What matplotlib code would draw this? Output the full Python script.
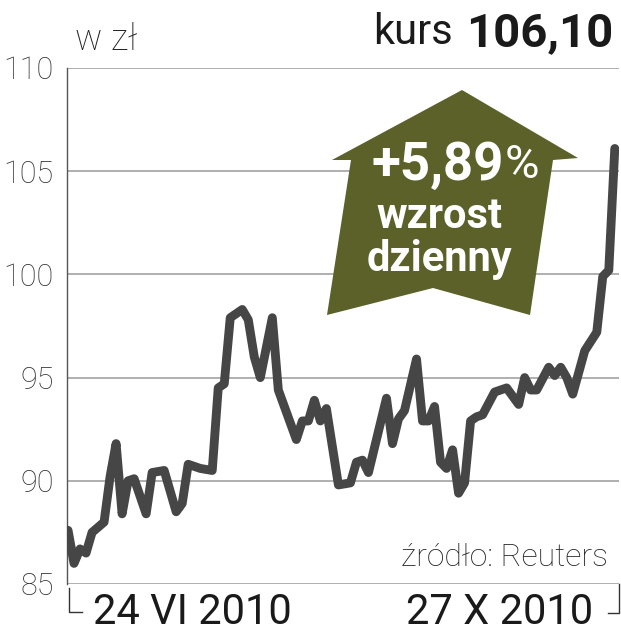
import matplotlib
matplotlib.use('Agg')
import matplotlib.pyplot as plt
from matplotlib.patches import Polygon
from matplotlib.lines import Line2D

# kurs akcji, dni sesyjne od 24 VI 2010 do 27 X 2010
days = [0, 1, 2, 3, 4, 6, 7, 8, 9, 10, 11, 13, 14, 16, 18, 19, 20, 22, 24, 25,
        26, 27, 29, 30, 31, 32, 34, 35, 38, 39, 40, 41, 42, 43, 45, 47, 48, 49,
        50, 53, 54, 55, 56, 58, 59, 60, 61, 62, 63, 64, 65, 66, 67, 68, 69, 71,
        73, 75, 76, 77, 78, 80, 81, 82, 83, 84, 86, 88, 89, 90, 91]
price = [87.6, 86.0, 86.7, 86.5, 87.5, 88.0, 90.2, 91.8, 88.4, 90.0, 90.1, 88.4,
         90.4, 90.5, 88.5, 88.9, 90.8, 90.6, 90.5, 94.5, 94.7, 97.9, 98.3, 97.8,
         96.0, 95.0, 97.9, 94.4, 92.0, 92.9, 92.9, 93.9, 92.9, 93.5, 89.8, 89.9,
         90.9, 91.0, 90.4, 94.0, 91.8, 93.0, 93.4, 95.9, 92.9, 92.9, 93.6, 90.9,
         90.6, 91.5, 89.4, 89.9, 92.9, 93.1, 93.2, 94.3, 94.5, 93.7, 95.0, 94.4,
         94.4, 95.5, 95.1, 95.5, 95.0, 94.2, 96.3, 97.2, 99.9, 100.2, 106.1]
yticks = [85, 90, 95, 100, 105, 110]
date_labels = ['24 VI 2010', '27 X 2010']
last_price = '106,10'
change = '+5,89'

W, H = 621, 640
FONT = 'Roboto'
GRID = '#9a9a9a'
LINE = '#464646'
OLIVE = '#5b6128'


def px(x, y):
    # pixel position -> figure fraction
    return x / W, 1 - y / H


fig = plt.figure(figsize=(W / 100, H / 100), dpi=100)
ax = fig.add_axes([67 / W, 1 - 584 / H, (619 - 67) / W, (584 - 68) / H])

ax.plot(days, price, color=LINE, lw=6.4, solid_capstyle='round',
        solid_joinstyle='round', zorder=3)
ax.set_xlim(-0.17, 91.7)
ax.set_ylim(85, 110)

for v in yticks:
    ax.axhline(v, color=GRID, lw=1.1, zorder=1)
for s in ['top', 'right', 'bottom']:
    ax.spines[s].set_visible(False)
ax.spines['left'].set_color('#555555')
ax.spines['left'].set_linewidth(1.0)
ax.set_xticks([])
ax.set_yticks(yticks)
ax.set_yticklabels([str(v) for v in yticks], family=FONT, fontweight='light',
                   fontsize=22, color='#333333')
ax.tick_params(axis='y', length=0, pad=9.5)

# naglowek
fig.text(*px(75, 40), 'w zł', family=FONT, fontweight='light', fontsize=26,
         color='#222222', va='center', ha='left')
fig.text(*px(613, 33), last_price, family=FONT, fontweight='bold', fontsize=34,
         color='#1a1a1a', va='center', ha='right')
fig.text(*px(453, 33), 'kurs', family=FONT, fontsize=30,
         color='#1a1a1a', va='center', ha='right')

# strzalka
arrow_px = [(462, 90), (578, 158), (553, 160), (530, 315), (433, 288),
            (327, 315), (351, 160), (332, 160)]
fig.patches.append(Polygon([px(x, y) for x, y in arrow_px], closed=True,
                           transform=fig.transFigure, facecolor=OLIVE,
                           edgecolor='none', zorder=5))
fig.text(*px(504, 165), change, family=FONT, fontweight='bold', fontsize=38,
         color='white', va='center', ha='right', zorder=6)
fig.text(*px(505, 165), '%', family=FONT, fontsize=34, color='white',
         va='center', ha='left', zorder=6)
fig.text(*px(439, 217), 'wzrost', family=FONT, fontweight='bold', fontsize=30,
         color='white', va='center', ha='center', zorder=6)
fig.text(*px(439, 260), 'dzienny', family=FONT, fontweight='bold', fontsize=30,
         color='white', va='center', ha='center', zorder=6)

fig.text(*px(608, 558), 'źródło: Reuters', family=FONT, fontweight='light',
         fontsize=23, color='#222222', va='center', ha='right')

# daty i klamry
fig.text(*px(93, 612), date_labels[0], family=FONT, fontsize=30,
         color='#1a1a1a', va='center', ha='left')
fig.text(*px(593, 612), date_labels[1], family=FONT, fontsize=30,
         color='#1a1a1a', va='center', ha='right')
for xs, ys in [([69, 69, 82], [588, 612, 612]), ([608, 619, 619], [613, 613, 584])]:
    pts = [px(x, y) for x, y in zip(xs, ys)]
    fig.lines.append(Line2D([p[0] for p in pts], [p[1] for p in pts],
                            transform=fig.transFigure, color='#333333', lw=1.0))

fig.savefig('out.png', dpi=100)
